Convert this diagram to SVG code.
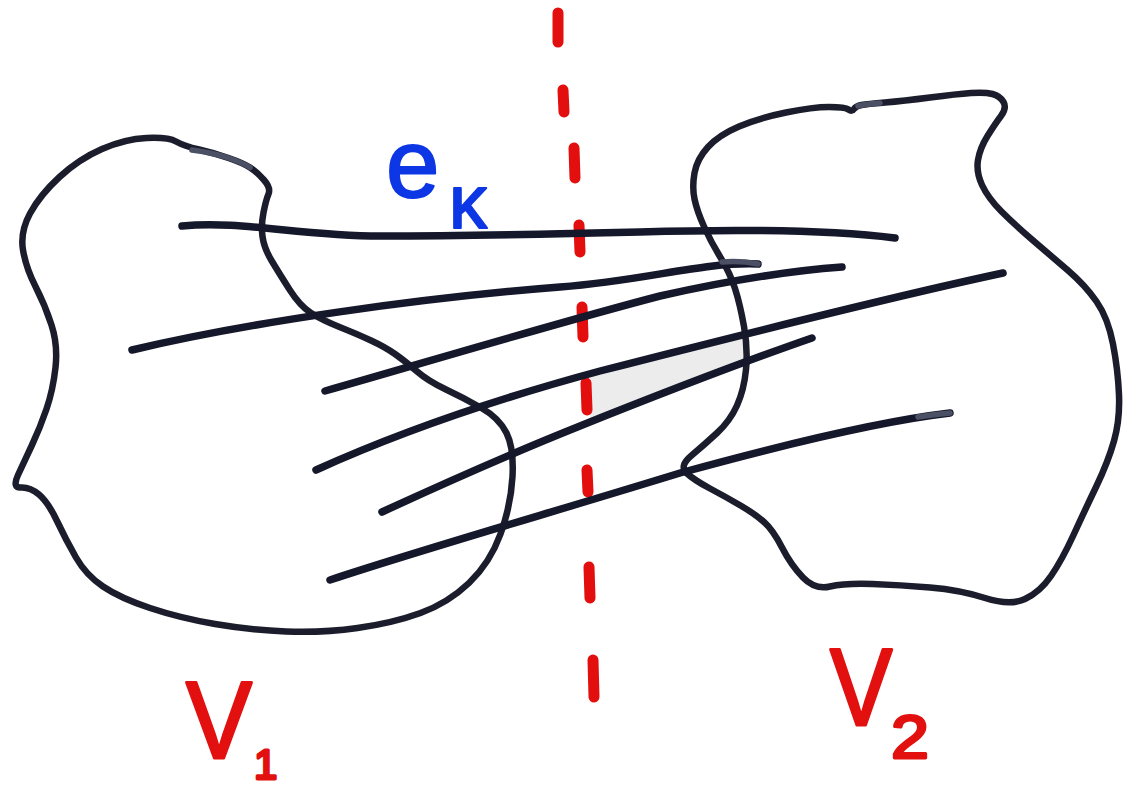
<svg xmlns="http://www.w3.org/2000/svg" width="1127" height="787" viewBox="0 0 1127 787">
<style>
.blob{fill:none;stroke:#1b1d2c;stroke-width:6.5;stroke-linejoin:round;stroke-linecap:round}
.edge{fill:none;stroke:#15172a;stroke-width:7.5;stroke-linecap:round;stroke-linejoin:round}
.ghost{fill:none;stroke:#4b5064;stroke-width:5.5;stroke-linecap:round}
.cut{stroke:#e30f0f;stroke-width:11;stroke-linecap:round}
.red{fill:#e2100f;stroke:#e2100f;stroke-width:3;stroke-linejoin:round;font-family:"Liberation Sans",Arial,sans-serif}
.blue{fill:#0d36e4;stroke:#0d36e4;stroke-width:2;stroke-linejoin:round;font-family:"Liberation Sans",Arial,sans-serif}
</style>
<rect width="1127" height="787" fill="#ffffff"/>
<polygon id="shade" points="590,373 745,333 745,362 590,422" fill="#ececec"/>
<g id="cut">
<line class="cut" x1="558" y1="13" x2="558" y2="42"/>
<line class="cut" x1="563" y1="90" x2="564" y2="112"/>
<line class="cut" x1="574" y1="148" x2="575" y2="178"/>
<line class="cut" x1="579" y1="225" x2="580" y2="252"/>
<line class="cut" x1="582" y1="307" x2="583" y2="337"/>
<line class="cut" x1="586" y1="383" x2="587" y2="410"/>
<line class="cut" x1="587" y1="470" x2="588" y2="492"/>
<line class="cut" x1="589" y1="567" x2="590" y2="598"/>
<line class="cut" x1="593" y1="660" x2="594" y2="697"/>
</g>
<g id="V1">
<path class="blob" d="M176,141.5 Q168,137 146.5,138 Q125,139 102,149 Q79,159 59.5,177 Q40,195 30,213.5 Q20,232 23,250 Q26,268 35.5,286.5 Q45,305 51.5,325 Q58,345 55.5,367.5 Q53,390 46.5,409 Q40,428 32,445 Q24,462 18,475 Q12,488 21,487.5 Q30,487 39,494.5 Q48,502 57,521 Q66,540 76,557.5 Q86,575 103,586.5 Q120,598 150,608 Q180,618 215,624 Q250,630 286,631.5 Q322,633 357.5,628 Q393,623 420.5,613 Q448,603 469,583 Q490,563 500.5,534 Q511,505 512.5,476.5 Q514,448 506.5,433 Q499,418 481.5,408 Q464,398 446,389.5 Q428,381 416.5,371 Q405,361 395,354 Q385,347 371,340.5 Q357,334 339.5,327 Q322,320 311,313 Q300,306 289.5,289.5 Q279,273 271.5,260.5 Q264,248 262.5,236.5 Q261,225 263.5,212.5 Q266,200 268.5,194 Q271,188 264,180 Q257,172 250,167.5 Q243,163 228.5,158 Q214,153 199,149.5 Q184,146 176,141.5 Z"/>
<path class="ghost" d="M192,150 Q214,153 228.5,158 Q243,163 250,167.5"/>
</g>
<g id="V2">
<path class="blob" d="M848.5,109.5 Q845,107 829,107 Q813,107 786,112.5 Q759,118 739,126.5 Q719,135 708,147 Q697,159 694.5,173 Q692,187 694.5,199 Q697,211 704,226.5 Q711,242 720.5,257.5 Q730,273 735,288.5 Q740,304 744,326.5 Q748,349 746,369.5 Q744,390 737,405.5 Q730,421 717,433 Q704,445 691.5,455.5 Q679,466 686.5,473 Q694,480 710,488.5 Q726,497 740.5,505.5 Q755,514 764,522 Q773,530 782,547.5 Q791,565 803,577.5 Q815,590 830,586.5 Q845,583 872.5,584 Q900,585 930,587.5 Q960,590 985,598 Q1010,606 1025,599 Q1040,592 1051,576 Q1062,560 1073.5,535 Q1085,510 1096.5,486 Q1108,462 1114,441 Q1120,420 1119,395 Q1118,370 1113,344 Q1108,318 1096.5,301.5 Q1085,285 1067.5,270 Q1050,255 1032.5,240 Q1015,225 1001.5,211.5 Q988,198 982,185 Q976,172 978,160 Q980,148 987.5,136 Q995,124 1001,116 Q1007,108 1003.5,102 Q1000,96 992.5,94 Q985,92 971,93 Q957,94 930,97.5 Q903,101 885,102.5 Q867,104 861.5,105 Q856,106 854,109 Q852,112 848.5,109.5 Z"/>
<path class="ghost" d="M858,106 Q867,104 880,103"/>
</g>
<g id="edges">
<path id="ek" class="edge" d="M182,226 C240,220 300,236 380,236 C480,236 560,234 640,232 C740,229 830,230 895,238"/>
<path class="edge" d="M132,350 C250,322 420,298 560,287 C650,280 700,262 758,264"/>
<path class="ghost" d="M722,262 C735,261 748,262 758,264"/>
<path class="edge" d="M325,391 C420,364 560,322 660,296 C740,278 800,270 842,267"/>
<path class="edge" d="M316,470 C400,432 500,398 600,371 C760,330 900,295 1003,273"/>
<path class="edge" d="M382,512 C460,476 520,450 580,426 C680,386 760,356 812,338"/>
<path class="edge" d="M330,580 C420,550 560,510 680,473 C800,440 890,420 950,413"/>
<path class="ghost" d="M918,417 C930,415 940,414 950,413"/>
</g>
<g id="labels">
<text class="blue" x="386" y="197" font-size="96">e</text>
<text class="blue" x="449" y="228" font-size="76">κ</text>
<text class="red" transform="translate(186,758) scale(0.9,1)" font-size="110">V</text>
<text class="red" x="254" y="779" font-size="42">1</text>
<text class="red" transform="translate(830,725) scale(0.85,1)" font-size="110">V</text>
<text class="red" transform="translate(891,758) scale(1.1,1)" font-size="62">2</text>
</g>
</svg>
